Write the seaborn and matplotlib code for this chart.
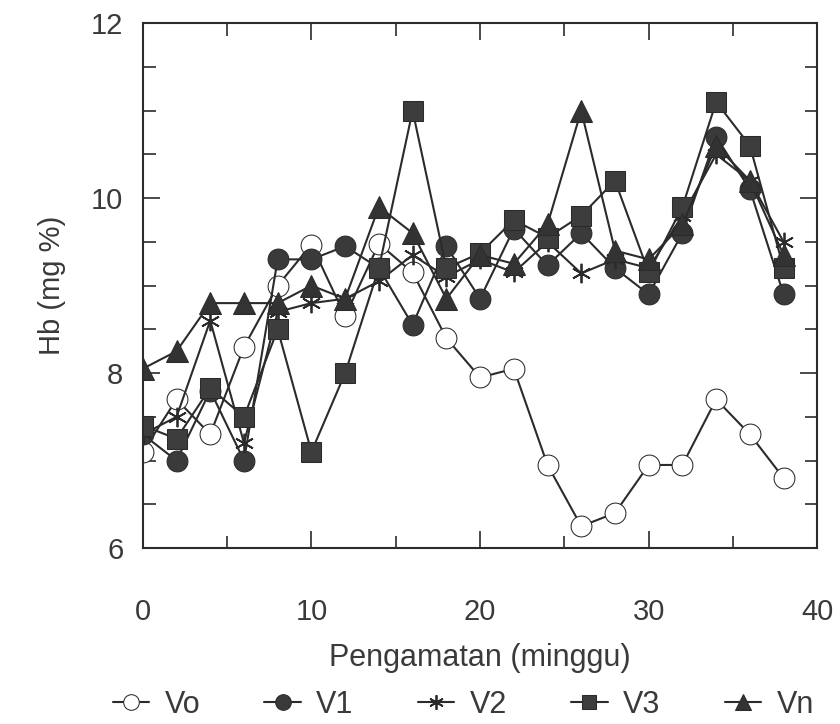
import numpy as np
import pandas as pd
import matplotlib
matplotlib.use("Agg")
import matplotlib.pyplot as plt
from matplotlib.ticker import MultipleLocator
import seaborn as sns

# minggu pengamatan
weeks = [0, 2, 4, 6, 8, 10, 12, 14, 16, 18, 20, 22, 24, 26, 28, 30, 32, 34, 36, 38]

vo = [7.1, 7.7, 7.3, 8.3, 9.0, 9.47, 8.65, 9.48, 9.15, 8.4,
      7.95, 8.05, 6.95, 6.25, 6.4, 6.95, 6.95, 7.7, 7.3, 6.8]
v1 = [7.3, 7.0, 7.8, 7.0, 9.3, 9.3, 9.45, 9.2, 8.55, 9.45,
      8.85, 9.65, 9.23, 9.6, 9.2, 8.9, 9.6, 10.7, 10.1, 8.9]
v2 = [7.3, 7.5, 8.6, 7.2, 8.7, 8.8, 8.85, 9.05, 9.35, 9.1,
      9.3, 9.15, 9.5, 9.14, 9.3, 9.2, 9.8, 10.5, 10.2, 9.5]
v3 = [7.4, 7.25, 7.83, 7.5, 8.5, 7.1, 8.0, 9.2, 11.0, 9.2,
      9.37, 9.75, 9.55, 9.8, 10.2, 9.15, 9.9, 11.1, 10.6, 9.2]
vn = [8.05, 8.25, 8.8, 8.8, 8.8, 9.0, 8.85, 9.9, 9.6, 8.85,
      9.35, 9.25, 9.7, 11.0, 9.4, 9.3, 9.7, 10.6, 10.2, 9.35]

labels = ["Vo", "V1", "V2", "V3", "Vn"]

sns.set_style("ticks")
plt.rcParams["font.family"] = ["Liberation Sans", "DejaVu Sans"]

ink = "#2b2b2b"
txt = "#3a3a3a"

df = pd.DataFrame({"minggu": weeks * 5,
                   "hb": vo + v1 + v2 + v3 + vn,
                   "grup": [l for l in labels for _ in weeks]})

fig = plt.figure(figsize=(8.4, 7.24), dpi=100)
ax = fig.add_axes([0.170, 0.243, 0.803, 0.725])

styles = {
    "Vo": dict(marker="o", markerfacecolor="white", markersize=15),
    "V1": dict(marker="o", markerfacecolor="#3a3a3a", markersize=15),
    "V2": dict(marker=(6, 2, 0), markerfacecolor=ink, markersize=14, markeredgewidth=1.3),
    "V3": dict(marker="s", markerfacecolor="#3d3d3d", markersize=14),
    "Vn": dict(marker="^", markerfacecolor="#333333", markersize=16),
}

for lab in labels:
    sub = df[df["grup"] == lab]
    kw = styles[lab]
    sns.lineplot(data=sub, x="minggu", y="hb", ax=ax, color=ink, linewidth=1.5,
                 markeredgecolor=ink, label=lab, **kw)

ax.set_xlim(0, 40)
ax.set_ylim(6, 12)
ax.xaxis.set_major_locator(MultipleLocator(10))
ax.xaxis.set_minor_locator(MultipleLocator(5))
ax.yaxis.set_major_locator(MultipleLocator(2))
ax.yaxis.set_minor_locator(MultipleLocator(0.5))
ax.tick_params(which="both", direction="in", top=True, right=True, color=ink, width=1.2)
ax.tick_params(which="major", length=12, labelsize=21, labelcolor=txt)
ax.tick_params(which="minor", length=9)
ax.tick_params(axis="x", which="major", pad=36)
ax.tick_params(axis="y", which="major", pad=14)
for s in ax.spines.values():
    s.set_color(ink)
    s.set_linewidth(1.5)

ax.set_xlabel("Pengamatan (minggu)", fontsize=22, color=txt, labelpad=12)
ax.set_ylabel("Hb (mg %)", fontsize=21, color=txt, labelpad=18)

ax.legend(loc="upper center", bbox_to_anchor=(0.475, -0.218), ncol=5, frameon=False,
          fontsize=22, handlelength=1.2, columnspacing=2.1, handletextpad=0.5,
          markerscale=0.75, labelcolor=txt)

fig.savefig("out.png", dpi=100)
